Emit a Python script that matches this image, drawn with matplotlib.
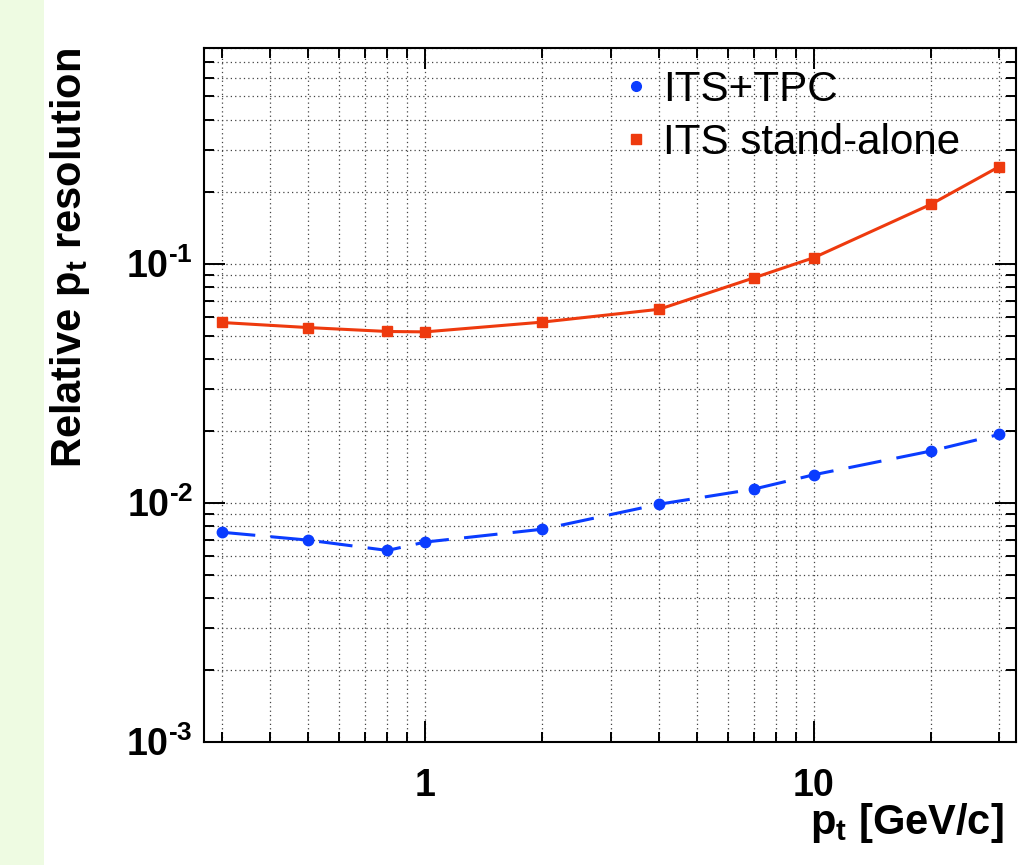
import numpy as np
import matplotlib
matplotlib.use("Agg")
import matplotlib.pyplot as plt
from matplotlib.lines import Line2D
from matplotlib.patches import Rectangle
from matplotlib.ticker import FixedLocator, NullFormatter

plt.rcParams['font.family'] = ['Liberation Sans', 'DejaVu Sans']
plt.rcParams['mathtext.fontset'] = 'custom'
plt.rcParams['mathtext.rm'] = 'Liberation Sans:bold'
plt.rcParams['mathtext.bf'] = 'Liberation Sans:bold'
plt.rcParams['mathtext.it'] = 'Liberation Sans:italic'

pt = [0.3, 0.5, 0.8, 1, 2, 4, 7, 10, 20, 30]
res_its_tpc = [0.00752, 0.00697, 0.00631, 0.00684, 0.00774, 0.00985,
               0.01139, 0.01308, 0.01644, 0.0193]
res_its_sa = [0.0567, 0.0540, 0.0520, 0.0518, 0.0569, 0.0644,
              0.0871, 0.1059, 0.177, 0.2547]
x_major = [1, 10]
x_major_labels = ['1', '10']
y_major = [1e-3, 1e-2, 1e-1]
y_major_labels = [r'$\mathbf{10^{\text{-}3}}$', r'$\mathbf{10^{\text{-}2}}$',
                  r'$\mathbf{10^{\text{-}1}}$']

blue = '#0a3cff'
red = '#ee3a0e'

fig = plt.figure(figsize=(10.18, 8.65), dpi=100, facecolor='white')
fig.patches.append(Rectangle((0, 0), 44 / 1018, 1, transform=fig.transFigure,
                             facecolor='#eefbe2', edgecolor='none', zorder=-1))

ax = fig.add_axes([204 / 1018, 1 - 741.7 / 865, 812 / 1018, 694 / 865])

ax.plot(pt, res_its_tpc, color=blue, lw=2.2, ls=(0, (11, 5)),
        marker='o', ms=7.5, zorder=3)
ax.plot(pt, res_its_sa, color=red, lw=2.2, ls='-',
        marker='s', ms=7.5, zorder=3)

ax.set_xscale('log')
ax.set_yscale('log')
ax.set_xlim(0.27, 33.1)
ax.set_ylim(1e-3, 0.8)

# ticks (ROOT style: inward, on all four sides)
ax.xaxis.set_major_locator(FixedLocator(x_major))
ax.xaxis.set_minor_locator(FixedLocator([0.3, 0.4, 0.5, 0.6, 0.7, 0.8, 0.9,
                                         2, 3, 4, 5, 6, 7, 8, 9, 20, 30]))
ax.set_xticklabels(x_major_labels, fontweight='bold')
ax.xaxis.set_minor_formatter(NullFormatter())

ymin = [m * d for d in [1e-3, 1e-2, 1e-1] for m in range(2, 10) if m * d <= 0.8]
ax.yaxis.set_major_locator(FixedLocator(y_major))
ax.yaxis.set_minor_locator(FixedLocator(ymin))
ax.set_yticklabels(y_major_labels)
ax.yaxis.set_minor_formatter(NullFormatter())

ax.tick_params(which='both', direction='in', top=True, right=True,
               width=1.4, colors='black')
ax.tick_params(which='major', length=15)
ax.tick_params(which='minor', length=7.5)
ax.tick_params(axis='x', which='major', labelsize=27, pad=19)
ax.tick_params(axis='y', which='major', labelsize=27, pad=8)

for s in ax.spines.values():
    s.set_linewidth(1.5)

ax.grid(True, which='both', color='#444444', ls=(0, (1, 2.5)), lw=0.9)

ax.set_ylabel(r'Relative $\mathbf{p_{t}}$ resolution', fontsize=30,
              fontweight='bold', loc='top')
ax.yaxis.set_label_coords(-0.138, 1.0)
ax.set_xlabel(r'$\mathbf{p_{t}}$ [GeV/c]', fontsize=30,
              fontweight='bold', loc='right')
ax.xaxis.set_label_coords(0.985, -0.085)

handles = [Line2D([], [], color=blue, marker='o', ls='none', ms=7),
           Line2D([], [], color=red, marker='s', ls='none', ms=7)]
ax.legend(handles, ['ITS+TPC', 'ITS stand-alone'], loc='upper left',
          bbox_to_anchor=(0.516, 0.968), frameon=False, fontsize=30.3,
          handlelength=0.6, handletextpad=0.35, labelspacing=0.3,
          borderpad=0, borderaxespad=0)

plt.savefig("out.png", dpi=100)
